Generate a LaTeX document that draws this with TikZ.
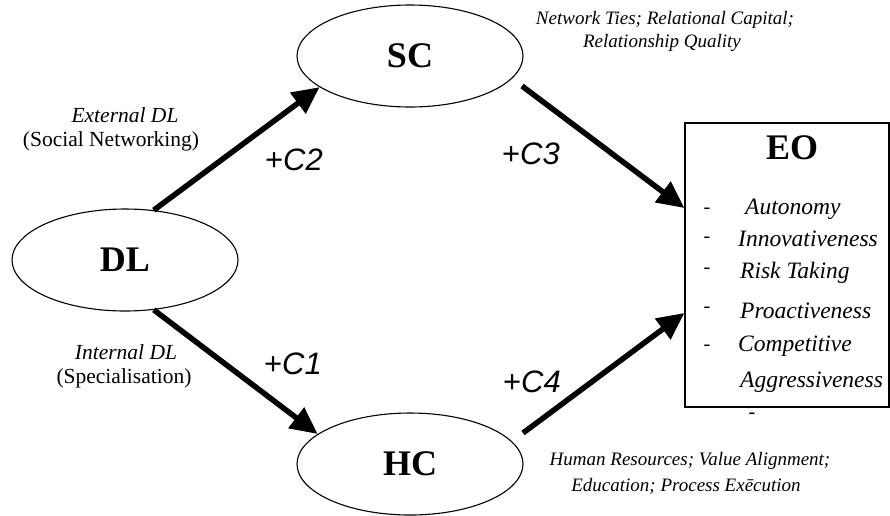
\documentclass[tikz,border=0pt]{standalone}
\usepackage{fontspec}
\setmainfont{Liberation Serif}
\newfontfamily\sansf{Liberation Sans}
\usetikzlibrary{arrows.meta,shapes.geometric,calc}
\begin{document}
\begin{tikzpicture}[x=1pt,y=-1pt,
  ell/.style={draw,ellipse,line width=1.1pt,minimum width=226pt,minimum height=102pt,inner sep=0pt,font=\fontsize{36}{40}\selectfont\bfseries},
  arr/.style={line width=5.5pt,-{Triangle[length=27pt,width=25pt]}},
  lab/.style={font=\fontsize{21.5}{24}\selectfont, inner sep=0pt},
  coef/.style={font=\sansf\fontsize{31}{34}\selectfont, inner sep=0pt},
  note/.style={font=\fontsize{19}{22}\selectfont\itshape, inner sep=0pt},
  item/.style={font=\fontsize{23.5}{26}\selectfont\itshape, anchor=west, inner sep=0pt},
  dsh/.style={font=\fontsize{20}{22}\selectfont, inner sep=0pt}
]
\useasboundingbox (0,0) rectangle (890,515);
% nodes
\node[ell] (SC) at (410,56) {SC};
\node[ell] (DL) at (125,260) {DL};
\node[ell] (HC) at (410,464) {HC};
\node[draw,line width=1.3pt,minimum width=204pt,minimum height=284pt,inner sep=0pt] (EO) at (787,265) {};
\node[font=\fontsize{36}{40}\selectfont\bfseries, inner sep=0pt] (EOt) at (792,148) {EO};
% connectors
\draw[arr] (DL.60) -- (SC.199);
\draw[arr] (DL.-60) -- (HC.162);
\draw[arr] ($(SC.center)+(112,30)$) -- ([yshift=57pt]EO.west);
\draw[arr] ($(HC.center)+(113,-31)$) -- ([yshift=-48pt]EO.west);
% side labels
\node[lab] (ext1) at (125,115) {\itshape External DL};
\node[lab] (ext2) at (111,141) {(Social Networking)};
\node[lab] (int1) at (126,352) {\itshape Internal DL};
\node[lab] (int2) at (124,378) {(Specialisation)};
% coefficients
\node[coef] (c2) at (294,160) {+\textit{C2}};
\node[coef] (c3) at (531,154) {+\textit{C3}};
\node[coef] (c1) at (293,364) {+\textit{C1}};
\node[coef] (c4) at (532,382) {+\textit{C4}};
% notes
\node[note] (n1) at (665,20) {Network Ties; Relational Capital;};
\node[note] (n2) at (662,43) {Relationship Quality};
\node[note] (n3) at (690,461) {Human Resources; Value Alignment;};
\node[note] (n4) at (686,486) {Education; Process Exēcution};
% EO list
\node[dsh] (d1) at (707,211) {-};
\node[dsh] (d2) at (707,240) {-};
\node[dsh] (d3) at (707,271) {-};
\node[dsh] (d4) at (707,310) {-};
\node[dsh] (d5) at (707,348) {-};
\node[dsh] (d6) at (752,416) {-};
\node[item] (i1) at (745,209) {Autonomy};
\node[item] (i2) at (738,239) {Innovativeness};
\node[item] (i3) at (740,273) {Risk Taking};
\node[item] (i4) at (740,311) {Proactiveness};
\node[item] (i5) at (738,346) {Competitive};
\node[item] (i6) at (740,382) {Aggressiveness};
\end{tikzpicture}
\end{document}
